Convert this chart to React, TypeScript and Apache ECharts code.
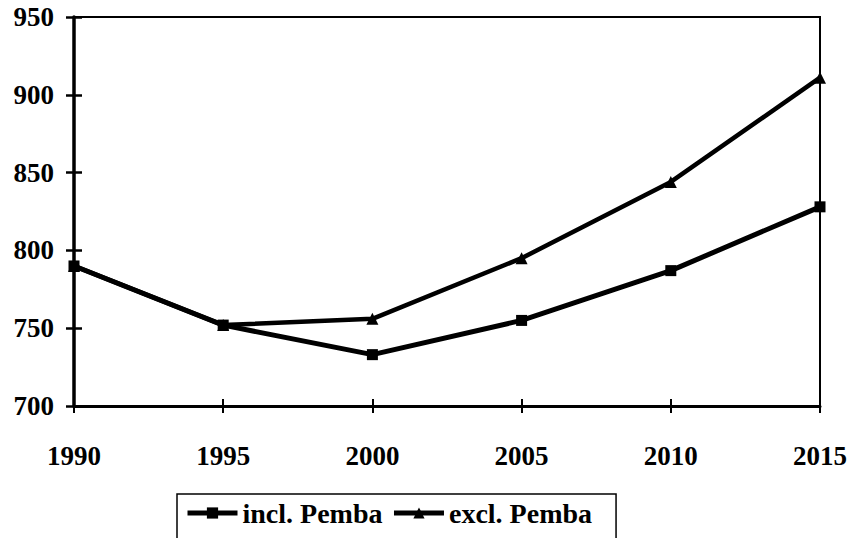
import React, { useEffect, useRef } from "react";
import * as echarts from "echarts";

const years = [1990, 1995, 2000, 2005, 2010, 2015];
const inclPemba = [790, 752, 733, 755, 787, 828];
const exclPemba = [790, 752, 756, 795, 844, 911];
const seriesNames = ["incl. Pemba", "excl. Pemba"];

const FONT = "Times New Roman";

export default function App() {
  const ref = useRef<HTMLDivElement>(null);
  useEffect(() => {
    if (!ref.current) return;
    const chart = echarts.init(ref.current, null, { renderer: "svg" });
    const fmt = (v: number) => String(v);
    chart.setOption({
      animation: false,
      backgroundColor: "#fff",
      grid: {
        left: 74,
        right: 33,
        top: 17,
        bottom: 132,
        show: true,
        borderColor: "#000",
        borderWidth: 2,
      },
      xAxis: [
        {
          type: "value",
          min: 1990,
          max: 2015,
          interval: 5,
          axisLine: { show: true, lineStyle: { color: "#000", width: 3 } },
          axisTick: { show: true, length: 7, lineStyle: { color: "#000", width: 2 } },
          axisLabel: { fontFamily: FONT, fontWeight: "bold", fontSize: 27, color: "#000", margin: 36, formatter: fmt },
          splitLine: { show: false },
        },
        {
          type: "value",
          position: "bottom",
          min: 1990,
          max: 2015,
          interval: 5,
          axisLine: { show: false },
          axisTick: { show: true, inside: true, length: 7, lineStyle: { color: "#000", width: 2 } },
          axisLabel: { show: false },
          splitLine: { show: false },
        },
      ],
      yAxis: [
        {
          type: "value",
          min: 700,
          max: 950,
          interval: 50,
          axisLine: { show: true, lineStyle: { color: "#000", width: 3.5 } },
          axisTick: { show: true, length: 8, lineStyle: { color: "#000", width: 2.5 } },
          axisLabel: { fontFamily: FONT, fontWeight: "bold", fontSize: 27, color: "#000", margin: 20, formatter: fmt },
          splitLine: { show: false },
        },
        {
          type: "value",
          position: "left",
          min: 700,
          max: 950,
          interval: 50,
          axisLine: { show: false },
          axisTick: { show: true, inside: true, length: 8, lineStyle: { color: "#000", width: 2.5 } },
          axisLabel: { show: false },
          splitLine: { show: false },
        },
      ],
      legend: {
        left: 177,
        top: 494,
        orient: "horizontal",
        padding: [0, 24, 30, 8],
        borderColor: "#000",
        borderWidth: 1.5,
        itemWidth: 50,
        itemHeight: 14,
        itemGap: 9,
        data: seriesNames,
        lineStyle: { width: 5 },
        textStyle: {
          fontFamily: FONT,
          fontWeight: "bold",
          fontSize: 28,
          lineHeight: 22,
          color: "#000",
          padding: [16, 0, 0, 0],
        },
      },
      series: [
        {
          name: seriesNames[0],
          type: "line",
          data: years.map((y, i) => [y, inclPemba[i]]),
          symbol: "rect",
          symbolSize: 11,
          lineStyle: { color: "#000", width: 5 },
          itemStyle: { color: "#000" },
        },
        {
          name: seriesNames[1],
          type: "line",
          data: years.map((y, i) => [y, exclPemba[i]]),
          symbol: "triangle",
          symbolSize: 12,
          lineStyle: { color: "#000", width: 4.5 },
          itemStyle: { color: "#000" },
        },
      ],
    });
    return () => chart.dispose();
  }, []);
  return <div ref={ref} style={{ width: 853, height: 538, position: "absolute", left: 0, top: 0 }} />;
}
